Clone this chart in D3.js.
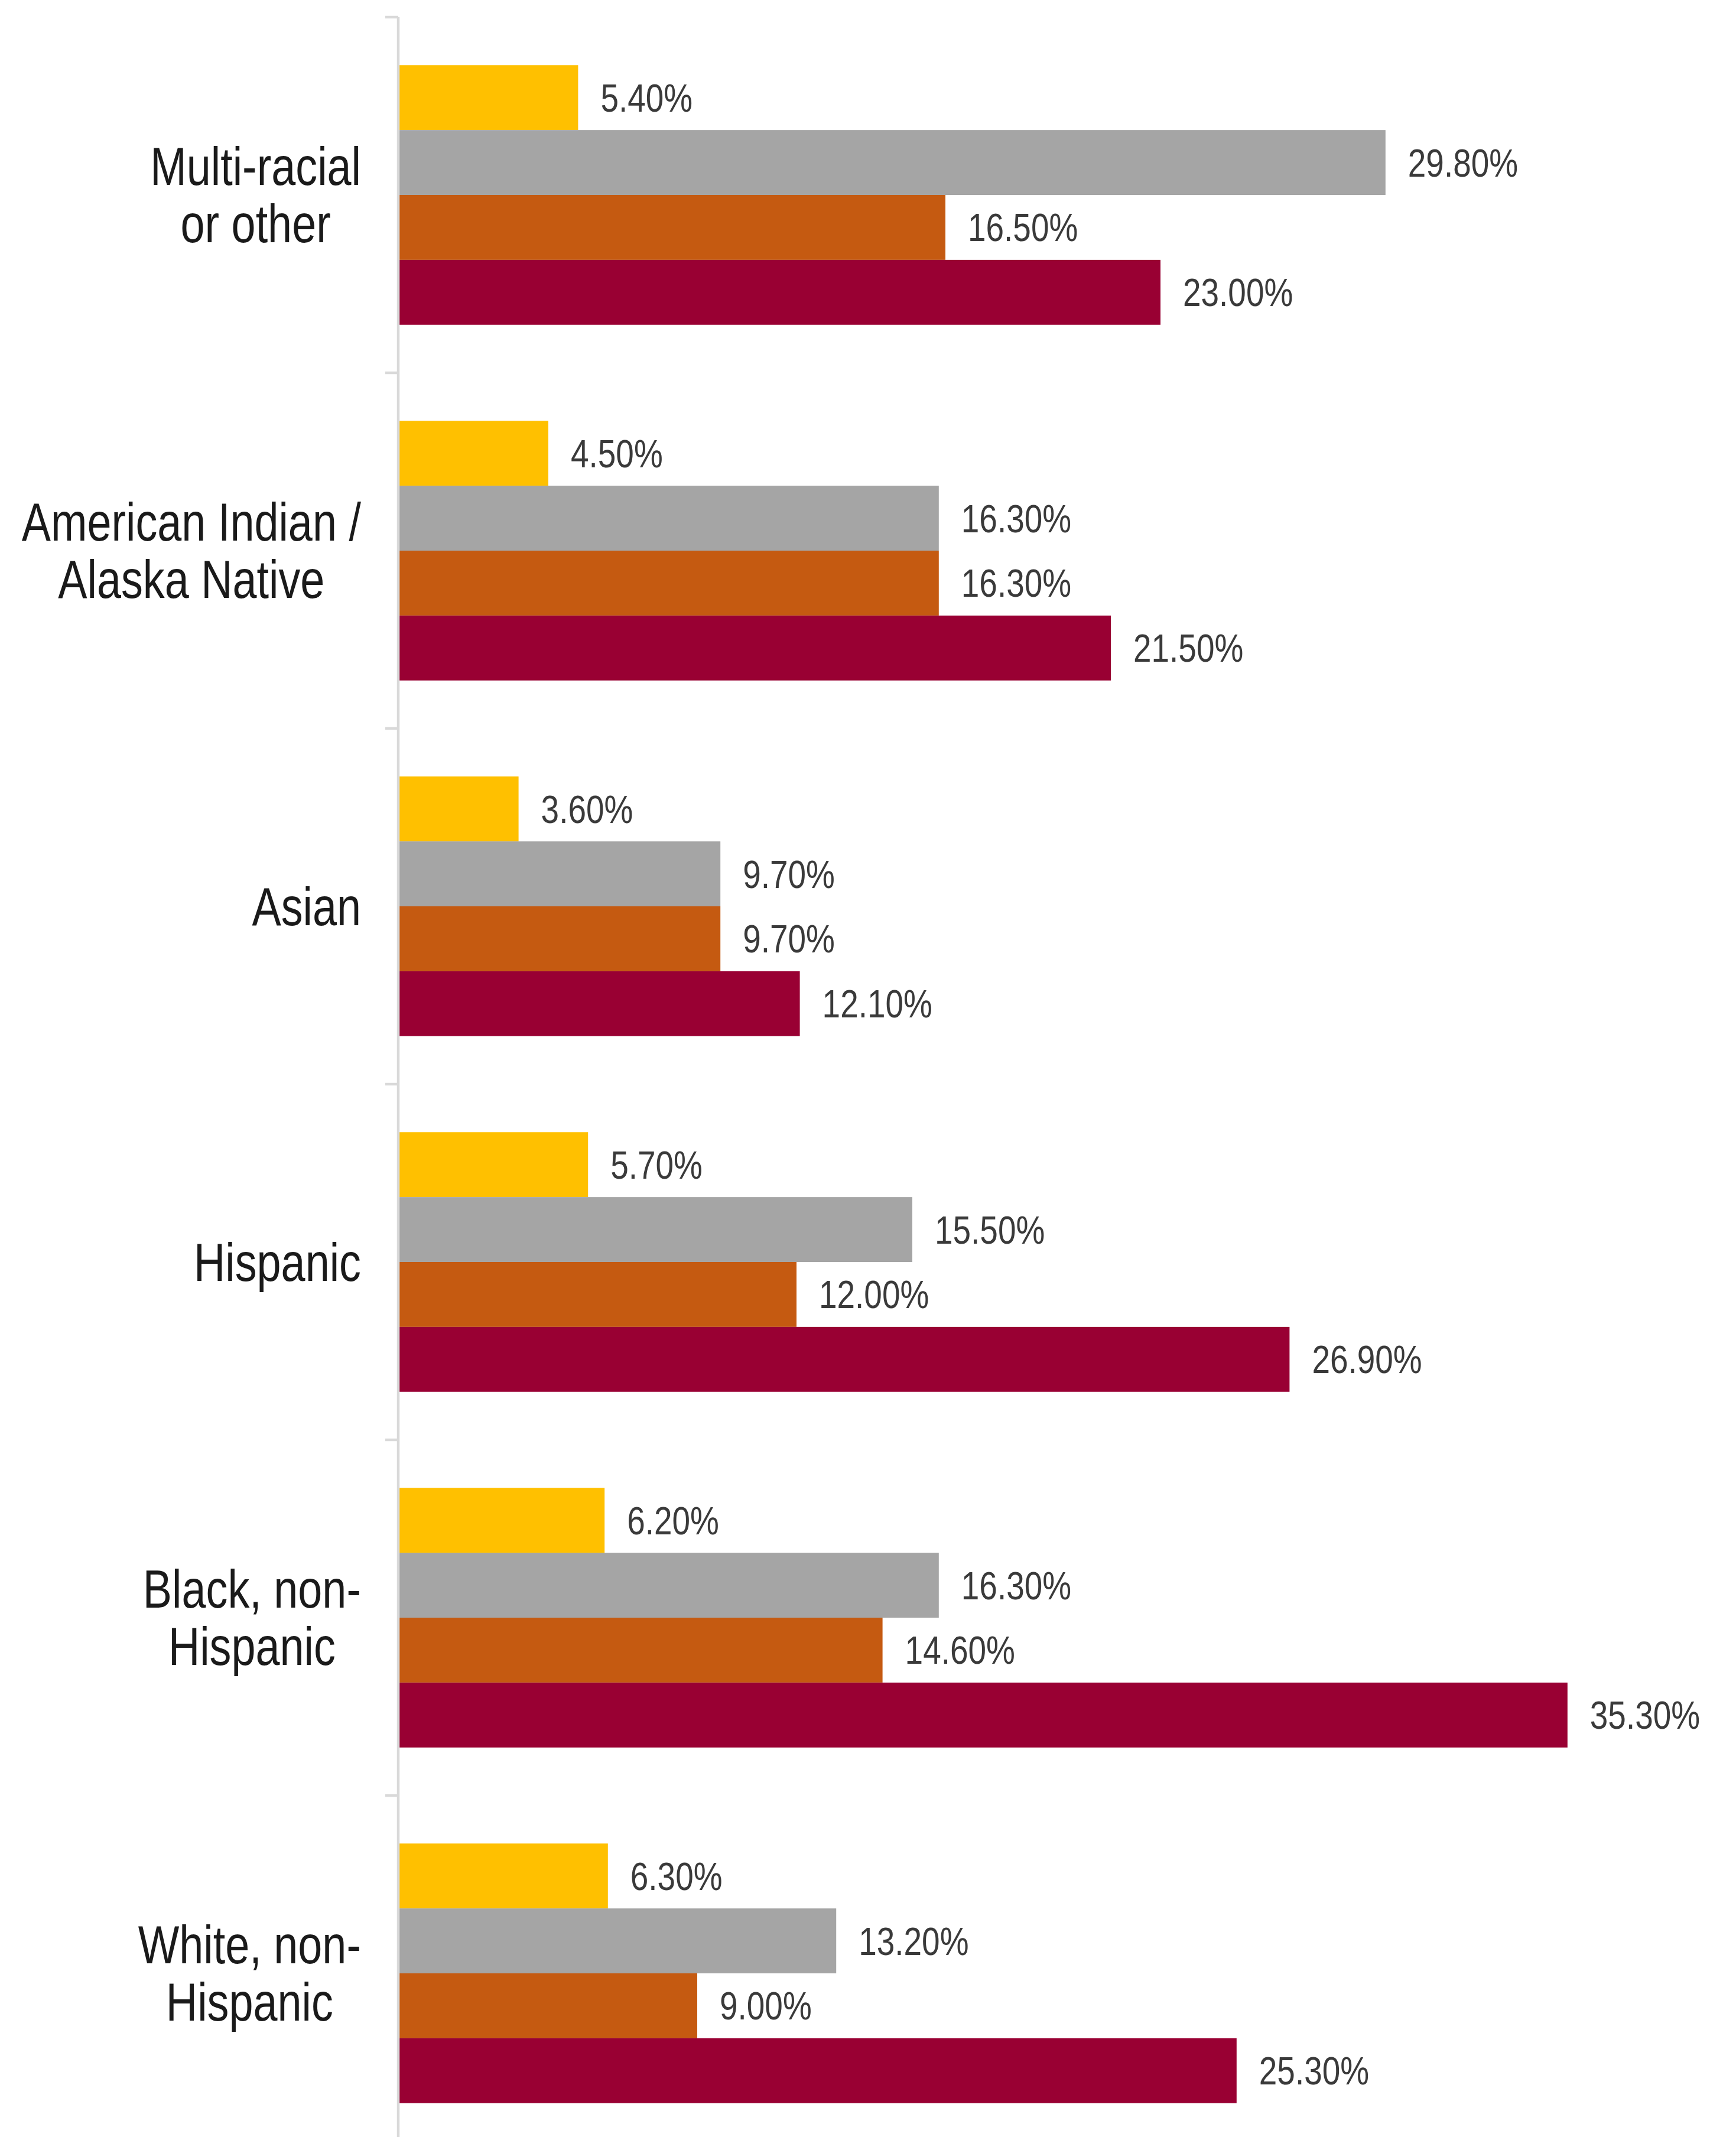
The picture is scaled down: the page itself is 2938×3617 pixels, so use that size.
<!DOCTYPE html>
<html>
<head>
<meta charset="utf-8">
<script src="https://d3js.org/d3.v7.min.js"></script>
<style>
  body { margin: 0; background: #fff; }
  text { font-family: "Liberation Sans", Arial, sans-serif; }
</style>
</head>
<body>
<div id="chart"></div>
<script>
// categories, top to bottom
var categories = [
    ["Multi-racial", "or other"],
    ["American Indian /", "Alaska Native"],
    ["Asian"],
    ["Hispanic"],
    ["Black, non-", "Hispanic"],
    ["White, non-", "Hispanic"]
];
var seriesNames = ["Series 1", "Series 2", "Series 3", "Series 4"];
var seriesColors = ["#ffc000", "#a5a5a5", "#c55a11", "#990033"];

// values per series, same order as categories
var series1 = [5.4, 4.5, 3.6, 5.7, 6.2, 6.3];
var series2 = [29.8, 16.3, 9.7, 15.5, 16.3, 13.2];
var series3 = [16.5, 16.3, 9.7, 12.0, 14.6, 9.0];
var series4 = [23.0, 21.5, 12.1, 26.9, 35.3, 25.3];

var allSeries = [series1, series2, series3, series4];

var width = 2938, height = 3617;
var axisX = 676;
var squeeze = 0.82; // the original font is a narrow one

var svg = d3.select("#chart").append("svg")
    .attr("width", width)
    .attr("height", height);

svg.append("rect").attr("width", width).attr("height", height).attr("fill", "#fff");

var catKeys = categories.map(function(c) { return c.join(" "); });

var x = d3.scaleLinear().domain([0, 40]).range([axisX, 2916]);

var y0 = d3.scaleBand()
    .domain(catKeys)
    .range([29, 3641])
    .paddingInner(0.27)
    .paddingOuter(0.135);

var y1 = d3.scaleBand()
    .domain(seriesNames)
    .range([0, y0.bandwidth()]);

// flatten into rows for drawing
var rows = [];
catKeys.forEach(function(k, i) {
    seriesNames.forEach(function(s, j) {
        rows.push({ cat: k, series: s, value: allSeries[j][i], color: seriesColors[j] });
    });
});

// bars
svg.selectAll(".bar")
    .data(rows)
    .enter().append("rect")
    .attr("class", "bar")
    .attr("x", x(0))
    .attr("y", function(d) { return y0(d.cat) + y1(d.series); })
    .attr("width", function(d) { return x(d.value) - x(0); })
    .attr("height", y1.bandwidth())
    .attr("fill", function(d) { return d.color; });

// value labels
svg.selectAll(".val")
    .data(rows)
    .enter().append("text")
    .attr("class", "val")
    .attr("transform", function(d) {
        var ty = y0(d.cat) + y1(d.series) + y1.bandwidth() / 2;
        return "translate(" + (x(d.value) + 38) + "," + ty + ") scale(" + squeeze + ",1)";
    })
    .attr("dy", "0.35em")
    .style("font-size", "67px")
    .style("fill", "#3a3a3a")
    .text(function(d) { return d.value.toFixed(2) + "%"; });

// category axis: line + ticks at band boundaries
var step = y0.step();
var tickYs = d3.range(catKeys.length + 1).map(function(i) {
    return y0.range()[0] + i * step;
});
svg.append("line")
    .attr("x1", axisX - 2).attr("x2", axisX - 2)
    .attr("y1", tickYs[0]).attr("y2", height)
    .attr("stroke", "#d9d9d9")
    .attr("stroke-width", 4.5);
svg.selectAll(".tick")
    .data(tickYs)
    .enter().append("line")
    .attr("class", "tick")
    .attr("x1", axisX - 24).attr("x2", axisX - 2)
    .attr("y1", function(d) { return d; })
    .attr("y2", function(d) { return d; })
    .attr("stroke", "#d9d9d9")
    .attr("stroke-width", 4.5);

// category labels, lines centred on each other, block right-aligned
var labelRight = 611;
var lineH = 97;
categories.forEach(function(lines, i) {
    var cy = y0(catKeys[i]) + y0.bandwidth() / 2;
    var g = svg.append("g");
    var texts = lines.map(function(line, j) {
        return g.append("text")
            .attr("dy", "0.35em")
            .attr("text-anchor", "middle")
            .style("font-size", "90px")
            .style("fill", "#1a1a1a")
            .text(line);
    });
    var maxW = squeeze * d3.max(texts, function(t) { return t.node().getComputedTextLength(); });
    texts.forEach(function(t, j) {
        var ty = cy + (j - (lines.length - 1) / 2) * lineH;
        t.attr("transform", "translate(" + (labelRight - maxW / 2) + "," + ty + ") scale(" + squeeze + ",1)");
    });
});
</script>
</body>
</html>
